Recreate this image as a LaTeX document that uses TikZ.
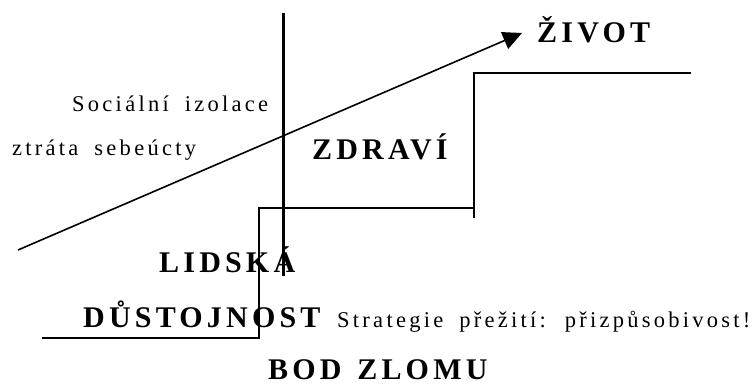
\documentclass[tikz,border=0pt]{standalone}
\usepackage{fontspec}
\setmainfont{Liberation Serif}
\newfontfamily\bigfont[LetterSpace=14]{Liberation Serif}
\newfontfamily\smallfont[LetterSpace=14.5,WordSpace=1.8]{Liberation Serif}
\usetikzlibrary{arrows.meta}

\tikzset{
  big/.style={anchor=base west,inner sep=0pt,font=\bigfont\fontsize{30}{32}\selectfont\bfseries},
  small/.style={anchor=base west,inner sep=0pt,font=\smallfont\fontsize{22.5}{24}\selectfont},
  thin line/.style={line width=1.6pt},
}

\begin{document}
\begin{tikzpicture}[x=1pt,y=-1pt]
\useasboundingbox (0,0) rectangle (753,385);

% The steps
\draw[thin line] (42,338) -- (259,338) -- (259,208) -- (474,208);
\draw[thin line] (474,218) -- (474,73) -- (691,73);

% Life arrow
\coordinate (start) at (18,250);
\coordinate (tip) at (522,33);
\draw[thin line,-{Triangle[length=19pt,width=18pt]}] (start) -- (tip);

% Breaking point
\draw[line width=3pt] (283,13) -- (283,276);

% Labels
\node[big] (zivot) at (537,43) {ŽIVOT};
\node[big] (zdravi) at (312,160) {ZDRAVÍ};
\node[big] (lidska) at (159,272) {LIDSKÁ};
\node[big] (dustojnost) at (83,327) {DŮSTOJNOST};
\node[big] (bod) at (268,379) {BOD\hspace{4pt} ZLOMU};
\node[small] (izolace) at (72,112) {Sociální izolace};
\node[small] (sebeucta) at (12,156) {ztráta sebeúcty};
\node[small] (strategie) at (337,327) {Strategie přežití: přizpůsobivost!};

\end{tikzpicture}
\end{document}
